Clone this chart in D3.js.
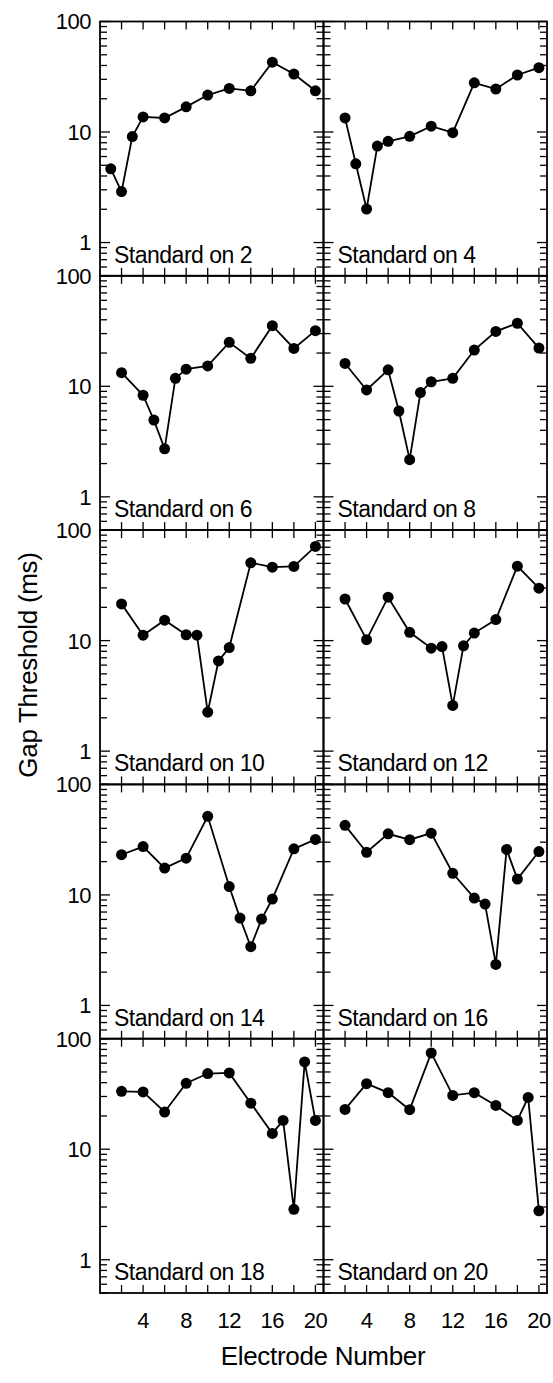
<!DOCTYPE html>
<html>
<head>
<meta charset="utf-8">
<script src="https://cdn.jsdelivr.net/npm/d3@7"></script>
<style>
  html, body { margin: 0; padding: 0; background: #fff; }
  svg { display: block; }
  text { font-family: "Liberation Sans", Arial, Helvetica, sans-serif; fill: #000; }
</style>
</head>
<body>
<svg id="chart" width="553" height="1383"></svg>
<script>
// ---- Data (gap thresholds in ms, per electrode) ----
const standards = [2, 4, 6, 8, 10, 12, 14, 16, 18, 20];

const electrodes_std2  = [1, 2, 3, 4, 6, 8, 10, 12, 14, 16, 18, 20];
const thresholds_std2  = [4.65, 2.89, 9.1, 13.7, 13.4, 16.9, 21.6, 24.8, 23.6, 42.8, 33.5, 23.6];

const electrodes_std4  = [2, 3, 4, 5, 6, 8, 10, 12, 14, 16, 18, 20];
const thresholds_std4  = [13.4, 5.16, 2.01, 7.46, 8.23, 9.14, 11.3, 9.87, 27.9, 24.5, 32.8, 38.2];

const electrodes_std6  = [2, 4, 5, 6, 7, 8, 10, 12, 14, 16, 18, 20];
const thresholds_std6  = [13.3, 8.3, 4.95, 2.72, 11.8, 14.3, 15.3, 25.0, 17.9, 35.4, 22.0, 31.9];

const electrodes_std8  = [2, 4, 6, 7, 8, 9, 10, 12, 14, 16, 18, 20];
const thresholds_std8  = [16.1, 9.27, 14.1, 5.98, 2.17, 8.77, 11.0, 11.8, 21.3, 31.4, 37.2, 22.2];

const electrodes_std10 = [2, 4, 6, 8, 9, 10, 11, 12, 14, 16, 18, 20];
const thresholds_std10 = [21.5, 11.2, 15.3, 11.3, 11.2, 2.25, 6.55, 8.66, 50.6, 46.2, 46.9, 71.2];

const electrodes_std12 = [2, 4, 6, 8, 10, 11, 12, 13, 14, 16, 18, 20];
const thresholds_std12 = [23.8, 10.2, 24.7, 11.9, 8.55, 8.84, 2.59, 8.97, 11.7, 15.5, 47.2, 29.8];

const electrodes_std14 = [2, 4, 6, 8, 10, 12, 13, 14, 15, 16, 18, 20];
const thresholds_std14 = [23.1, 27.4, 17.5, 21.5, 51.4, 11.9, 6.17, 3.40, 6.04, 9.18, 26.1, 31.8];

const electrodes_std16 = [2, 4, 6, 8, 10, 12, 14, 15, 16, 17, 18, 20];
const thresholds_std16 = [42.6, 24.3, 35.7, 31.6, 36.2, 15.7, 9.37, 8.26, 2.35, 25.8, 13.9, 24.7];

const electrodes_std18 = [2, 4, 6, 8, 10, 12, 14, 16, 17, 18, 19, 20];
const thresholds_std18 = [33.4, 33.0, 21.7, 39.5, 48.4, 49.0, 26.1, 13.9, 18.2, 2.86, 61.7, 18.2];

const electrodes_std20 = [2, 4, 6, 8, 10, 12, 14, 16, 18, 19, 20];
const thresholds_std20 = [22.9, 39.2, 32.5, 22.8, 74.4, 30.7, 32.5, 24.9, 18.2, 29.4, 2.77];

const panelElectrodes = [electrodes_std2, electrodes_std4, electrodes_std6, electrodes_std8, electrodes_std10,
                         electrodes_std12, electrodes_std14, electrodes_std16, electrodes_std18, electrodes_std20];
const panelThresholds = [thresholds_std2, thresholds_std4, thresholds_std6, thresholds_std8, thresholds_std10,
                         thresholds_std12, thresholds_std14, thresholds_std16, thresholds_std18, thresholds_std20];

const xTickValues = [2, 4, 6, 8, 10, 12, 14, 16, 18, 20];
const xTickLabels = [4, 8, 12, 16, 20];
const yTickLabels = [1, 10, 100];

const yLabel = "Gap Threshold (ms)";
const xLabel = "Electrode Number";

// ---- Layout ----
const svg = d3.select("#chart");
const colLeft = [100, 323.5];
const colRight = [323.5, 547];
const top0 = 21.5, panelH = 254.3;
const xDomain = [0, 20.75];
const yDomain = [0.5, 100];

const line = (xs, ys) => d3.line().x(d => xs(d[0])).y(d => ys(d[1]));

standards.forEach((std, i) => {
  const row = Math.floor(i / 2), col = i % 2;
  const xr = col === 0 ? colLeft : colRight;
  const t = top0 + row * panelH, b = t + panelH;
  const x = d3.scaleLinear().domain(xDomain).range(xr);
  const y = d3.scaleLog().domain(yDomain).range([b, t]);
  const g = svg.append("g");

  // y ticks (both sides, inward)
  const yt = y.ticks();
  yt.forEach(v => {
    const major = [1, 10, 100].includes(v);
    const len = major ? 10 : 7;
    const yy = y(v);
    g.append("line").attr("x1", xr[0]).attr("x2", xr[0] + len).attr("y1", yy).attr("y2", yy)
      .attr("stroke", "#000").attr("stroke-width", 1.3);
    g.append("line").attr("x1", xr[1]).attr("x2", xr[1] - len).attr("y1", yy).attr("y2", yy)
      .attr("stroke", "#000").attr("stroke-width", 1.3);
  });
  // x ticks (top and bottom, inward)
  xTickValues.forEach(v => {
    const xx = x(v);
    g.append("line").attr("x1", xx).attr("x2", xx).attr("y1", t).attr("y2", t + 8)
      .attr("stroke", "#000").attr("stroke-width", 1.3);
    g.append("line").attr("x1", xx).attr("x2", xx).attr("y1", b).attr("y2", b - 8)
      .attr("stroke", "#000").attr("stroke-width", 1.3);
  });
  // frame
  g.append("rect").attr("x", xr[0]).attr("y", t).attr("width", xr[1] - xr[0]).attr("height", panelH)
    .attr("fill", "none").attr("stroke", "#000").attr("stroke-width", 1.8);

  // y tick labels (left column only)
  if (col === 0) {
    yTickLabels.forEach(v => {
      g.append("text").attr("x", 91).attr("y", y(v)).attr("dy", "0.36em")
        .attr("text-anchor", "end").attr("font-size", 22).attr("letter-spacing", -0.5).text(v);
    });
  }
  // x tick labels (bottom row only)
  if (row === 4) {
    xTickLabels.forEach(v => {
      g.append("text").attr("x", x(v)).attr("y", 1328)
        .attr("text-anchor", "middle").attr("font-size", 22).attr("letter-spacing", -0.5).text(v);
    });
  }

  // data
  const pts = panelElectrodes[i].map((e, k) => [e, panelThresholds[i][k]]);
  g.append("path").datum(pts).attr("d", line(x, y)).attr("fill", "none")
    .attr("stroke", "#000").attr("stroke-width", 1.8);
  g.selectAll("circle.pt").data(pts).enter().append("circle").attr("class", "pt")
    .attr("cx", d => x(d[0])).attr("cy", d => y(d[1])).attr("r", 5.5).attr("fill", "#000");

  // panel label
  g.append("text").attr("x", xr[0] + 14).attr("y", b - 13)
    .attr("font-size", 23).attr("letter-spacing", -0.5).text("Standard on " + std);
});

// axis titles
svg.append("text").attr("transform", "translate(37,665) rotate(-90)")
  .attr("text-anchor", "middle").attr("font-size", 26).attr("letter-spacing", -0.3).text(yLabel);
svg.append("text").attr("x", 323).attr("y", 1365)
  .attr("text-anchor", "middle").attr("font-size", 26).attr("letter-spacing", -0.3).text(xLabel);
</script>
</body>
</html>
